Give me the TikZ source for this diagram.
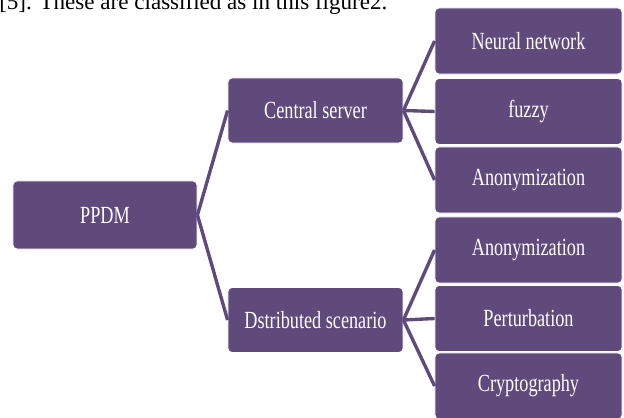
\documentclass[tikz,border=0pt]{standalone}
\usepackage{fontspec}
\setmainfont{Liberation Serif}
\newfontfamily\boxfont[FakeStretch=0.74]{Liberation Serif}
\definecolor{ppdmpurple}{HTML}{5F4A7B}

\tikzset{
  item/.style={fill=ppdmpurple, draw=white, line width=0.6pt, rounded corners=0.1cm,
    text=white, inner sep=0pt, align=center, font=\boxfont\fontsize{17.5}{19}\selectfont},
  rootbox/.style={item, minimum width=4.6cm, minimum height=1.7cm},
  midbox/.style={item, minimum width=4.375cm, minimum height=1.625cm},
  leafbox/.style={item, minimum width=4.675cm, minimum height=1.65cm},
  link/.style={draw=ppdmpurple, line width=2.4pt},
}

\begin{document}
\begin{tikzpicture}[x=0.025cm,y=-0.025cm]
\useasboundingbox (0,0) rectangle (624,418);
\clip (0,0) rectangle (624,418);

% caption line cut by the page edge
\node[anchor=base west, inner sep=0pt, font=\fontsize{16.4}{18}\selectfont] (caption) at (-1,10)
  {[5]. These are classified as in this figure2.};

\node[rootbox] (ppdm) at (105,215) {PPDM};

\node[midbox] (central) at (315.5,110.5) {Central server};
\node[midbox] (distrib) at (315.5,320) {Dstributed scenario};

\node[leafbox] (neural) at (528.5,41) {Neural network};
\node[leafbox] (fuzzy) at (528.5,111.5) {fuzzy};
\node[leafbox] (anonA) at (528.5,180) {Anonymization};
\node[leafbox] (anonB) at (528.5,250) {Anonymization};
\node[leafbox] (perturb) at (528.5,318.5) {Perturbation};
\node[leafbox] (crypto) at (528.5,386) {Cryptography};

\draw[link] (ppdm.east) -- (central.west);
\draw[link] (ppdm.east) -- (distrib.west);

\foreach \leaf in {neural,fuzzy,anonA}
  \draw[link] (central.east) -- (\leaf.west);
\foreach \leaf in {anonB,perturb,crypto}
  \draw[link] (distrib.east) -- (\leaf.west);

\end{tikzpicture}
\end{document}
